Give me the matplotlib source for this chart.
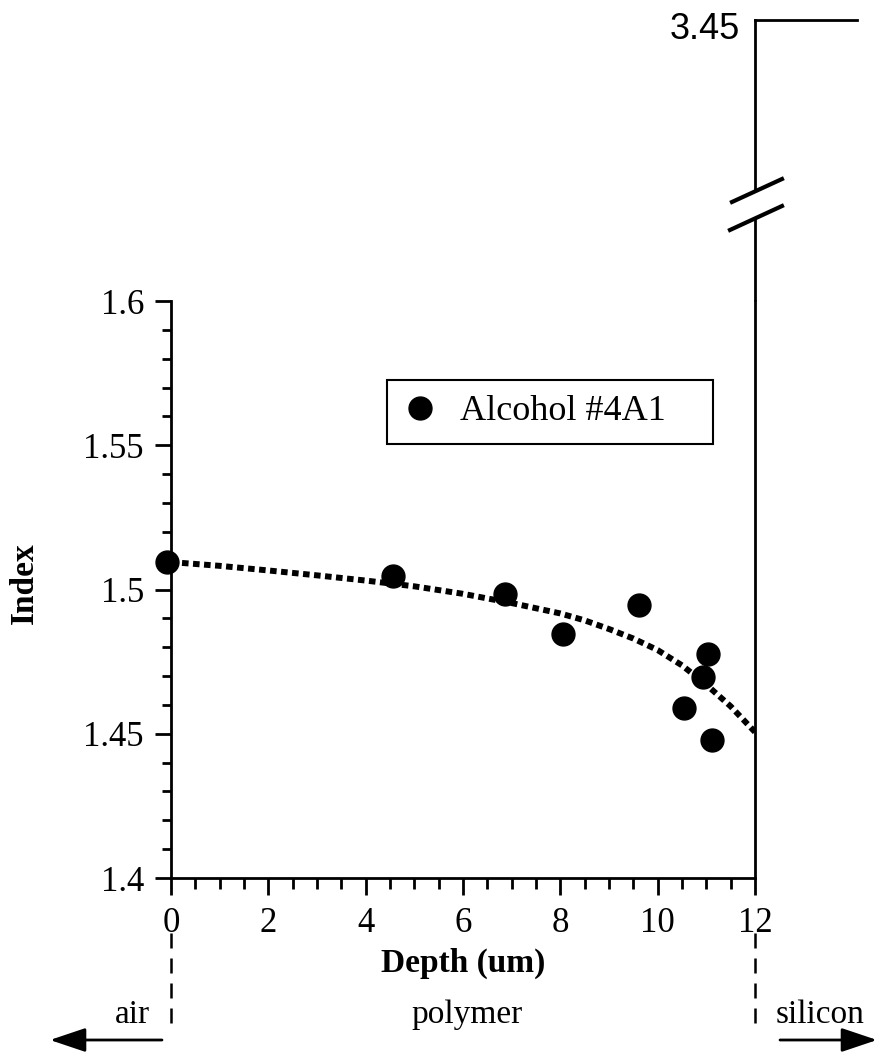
import matplotlib
matplotlib.use("Agg")
import matplotlib.pyplot as plt
import matplotlib.transforms as mtransforms
from matplotlib.ticker import MultipleLocator

# ---- data ----
depth = [-0.08, 4.56, 6.86, 8.05, 9.62, 10.54, 10.93, 11.03, 11.12]
index = [1.5095, 1.5047, 1.4984, 1.4846, 1.4946, 1.4589, 1.4697, 1.4776, 1.4478]
fit_depth = [0, 1, 2, 3, 4, 5, 6, 7, 8, 8.5, 9, 9.5, 10, 10.5, 11, 11.5, 12]
fit_index = [1.5095, 1.5082, 1.5066, 1.5049, 1.5031, 1.5011, 1.4985, 1.4953, 1.4917,
             1.4893, 1.4863, 1.4830, 1.4790, 1.4737, 1.4670, 1.4595, 1.4506]
series_label = "Alcohol #4A1"
xticks = [0, 2, 4, 6, 8, 10, 12]
yticks = [1.4, 1.45, 1.5, 1.55, 1.6]
ytick_labels = ["1.4", "1.45", "1.5", "1.55", "1.6"]
top_value = 3.45
region_labels = ["air", "polymer", "silicon"]
region_x = [-0.8, 6.08, 13.33]

SERIF = ["Liberation Serif", "DejaVu Serif"]
SANS = ["Liberation Sans", "DejaVu Sans"]
FS = 24

fig = plt.figure(figsize=(8.78, 10.53), dpi=100)
W, H = 878, 1053
x0p, x1p, y0p, y1p = 171, 755, 878, 301
ax = fig.add_axes([x0p / W, 1 - y0p / H, (x1p - x0p) / W, (y0p - y1p) / H])

ax.plot(fit_depth, fit_index, color="black", lw=4.3, linestyle=(0, (1.1, 0.75)),
        dash_capstyle="butt", zorder=2)
ax.plot(depth, index, "o", color="black", ms=16.5, label=series_label, zorder=3,
        clip_on=False)

ax.set_xlim(0, 12)
ax.set_ylim(1.4, 1.6)
ax.set_xticks(xticks)
ax.set_yticks(yticks)
ax.set_yticklabels(ytick_labels)
ax.xaxis.set_minor_locator(MultipleLocator(0.5))
ax.yaxis.set_minor_locator(MultipleLocator(0.01))
ax.tick_params(which="major", direction="out", width=2, colors="black")
ax.tick_params(axis="x", which="major", length=12, pad=9)
ax.tick_params(axis="x", which="minor", length=8, width=2, direction="out")
ax.tick_params(axis="y", which="major", length=11.5, pad=8)
ax.tick_params(axis="y", which="minor", length=6.5, width=2, direction="out")
for lab in ax.get_xticklabels() + ax.get_yticklabels():
    lab.set_fontfamily(SERIF)
    lab.set_fontsize(FS + 1)

ax.spines["top"].set_visible(False)
for s in ["left", "bottom", "right"]:
    ax.spines[s].set_linewidth(2)

# right spine continuation above the break
ax.plot([12, 12], [1.6, 1.4 + (878 - 217) / 2885], color="black", lw=2, clip_on=False,
        solid_capstyle="butt")
# break marks
ax.plot([0.9606, 1.0462], [1.1716, 1.2114], transform=ax.transAxes, color="black",
        lw=3, clip_on=False)
ax.plot([0.9572, 1.0462], [1.1231, 1.1646], transform=ax.transAxes, color="black",
        lw=3, clip_on=False)

# labels
ax.set_xlabel("Depth (um)", fontfamily=SERIF, fontsize=FS, fontweight="bold")
ax.xaxis.set_label_coords(0.5, (878 - 963) / 577)
ax.xaxis.label.set_va("center")
ax.set_ylabel("Index", fontfamily=SERIF, fontsize=FS, fontweight="bold")
ax.yaxis.set_label_coords((24 - 171) / 584, (878 - 583) / 577)
ax.yaxis.label.set_va("center")

# legend
leg = ax.legend(loc="upper left",
                bbox_to_anchor=((387 - 171) / 584, (878 - 448) / 577,
                                (713 - 387) / 584, (448 - 380) / 577),
                mode="expand", borderaxespad=0,
                frameon=True, fancybox=False, edgecolor="black", framealpha=1,
                prop={"family": SERIF, "size": 26}, handlelength=1.0,
                handletextpad=0.6, borderpad=0.42, numpoints=1)
leg.get_frame().set_linewidth(1.5)

# top axes carrying the 3.45 value
axt = fig.add_axes([755 / W, 1 - 190 / H, (857 - 755) / W, (190 - 20) / H])
axt.set_xlim(0, 1)
axt.set_ylim(3.3, top_value)
axt.set_xticks([])
axt.set_yticks([top_value])
axt.set_yticklabels([f"{top_value:.2f}"])
axt.tick_params(axis="y", length=0, pad=11)
shift = mtransforms.ScaledTranslation(0, -6 / 100, fig.dpi_scale_trans)
for lab in axt.get_yticklabels():
    lab.set_fontfamily(SANS)
    lab.set_fontsize(26)
    lab.set_transform(lab.get_transform() + shift)
for s in ["right", "bottom"]:
    axt.spines[s].set_visible(False)
for s in ["left", "top"]:
    axt.spines[s].set_linewidth(2)
axt.patch.set_visible(False)

# boundaries below the axis
xtr = ax.get_xaxis_transform()
for xb in [0, 12]:
    ax.plot([xb, xb], [(878 - 933) / 577, (878 - 1028) / 577], transform=xtr,
            color="black", lw=1.8, linestyle=(0, (6, 4)), clip_on=False)
for lab, xr in zip(region_labels, region_x):
    ax.text(xr, (878 - 1023) / 577, lab, transform=xtr, ha="center", va="baseline",
            fontfamily=SERIF, fontsize=FS)

ya = (878 - 1040) / 577
arrow_kw = dict(arrowstyle="-|>,head_length=1.1,head_width=0.37", color="black",
                lw=2, mutation_scale=20, shrinkA=0, shrinkB=0)
ax.annotate("", xy=((50 - 171) / 584, ya), xytext=((162 - 171) / 584, ya),
            xycoords="axes fraction", textcoords="axes fraction",
            arrowprops=arrow_kw, annotation_clip=False)
ax.annotate("", xy=((877 - 171) / 584, ya), xytext=((780 - 171) / 584, ya),
            xycoords="axes fraction", textcoords="axes fraction",
            arrowprops=arrow_kw, annotation_clip=False)

fig.savefig("out.png", dpi=100)
